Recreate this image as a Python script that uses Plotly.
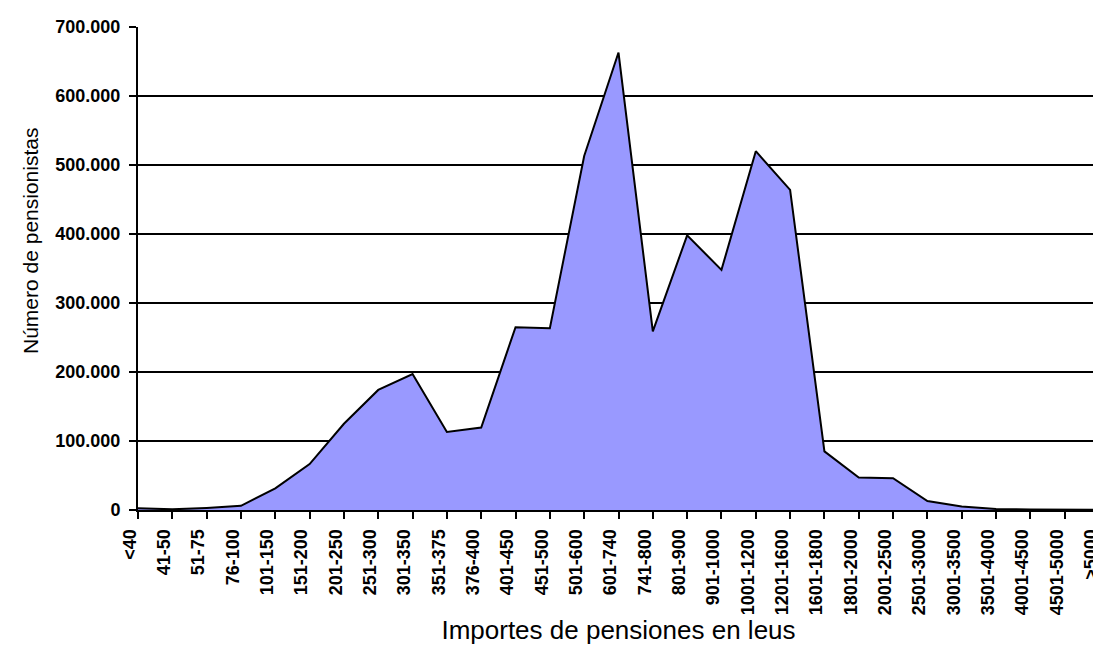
import plotly.graph_objects as go

categories = ["<40", "41-50", "51-75", "76-100", "101-150", "151-200", "201-250",
              "251-300", "301-350", "351-375", "376-400", "401-450", "451-500",
              "501-600", "601-740", "741-800", "801-900", "901-1000", "1001-1200",
              "1201-1600", "1601-1800", "1801-2000", "2001-2500", "2501-3000",
              "3001-3500", "3501-4000", "4001-4500", "4501-5000", ">5000"]
pensionistas = [2500, 1000, 3000, 6000, 31500, 66500, 125000, 174000, 197000,
                113000, 119500, 265000, 263500, 513000, 663000, 259000, 398000,
                348000, 520000, 464000, 85000, 47000, 46000, 13000, 5000,
                1500, 800, 400, 200]
y_ticks = [0, 100000, 200000, 300000, 400000, 500000, 600000, 700000]

x_title = "Importes de pensiones en leus"
y_title = "Número de pensionistas"

FONT = "Liberation Sans, Arial, sans-serif"
L, R, T, B = 130, 10, 19, 143
W, H = 1101, 645
plot_w = W - L - R
plot_h = H - T - B

fig = go.Figure()
fig.add_trace(go.Scatter(
    x=categories, y=pensionistas, mode="lines",
    fill="tozeroy", fillcolor="#9999FF",
    line=dict(color="black", width=2),
    hoverinfo="x+y", showlegend=False,
))

fig.update_layout(
    width=W, height=H,
    margin=dict(l=L, r=R, t=T, b=B, autoexpand=False),
    paper_bgcolor="white", plot_bgcolor="white",
    separators=",.",
    font=dict(family=FONT, color="black"),
)
fig.update_xaxes(
    type="category", range=[0, len(categories) - 1],
    tickangle=-90, showgrid=False,
    showline=True, linecolor="black", linewidth=2,
    ticks="outside", ticklen=7, tickwidth=2, tickcolor="black",
    tickfont=dict(size=18, family=FONT, weight="bold"),
    ticklabelshift=-8, ticklabelstandoff=3,
    title=dict(text=x_title, font=dict(size=26, family=FONT), standoff=4),
    automargin=False, zeroline=False,
)
fig.update_yaxes(
    range=[0, 700000], tickvals=y_ticks, tickformat=",d",
    showgrid=True, gridcolor="black", gridwidth=2,
    showline=True, linecolor="black", linewidth=2,
    ticks="outside", ticklen=7, tickwidth=2, tickcolor="black",
    tickfont=dict(size=18, family=FONT, weight="bold"),
    ticklabelstandoff=5,
    automargin=False, zeroline=False,
)

# y-axis title placed as in the reference (slightly above the plot's centre)
fig.add_annotation(
    text=y_title, textangle=-90, showarrow=False,
    xref="paper", yref="paper",
    x=(22 - L) / plot_w, y=(H - B - 233) / plot_h,
    xanchor="center", yanchor="middle",
    font=dict(size=21, family=FONT, color="black"),
)

fig.write_html("out.html")
